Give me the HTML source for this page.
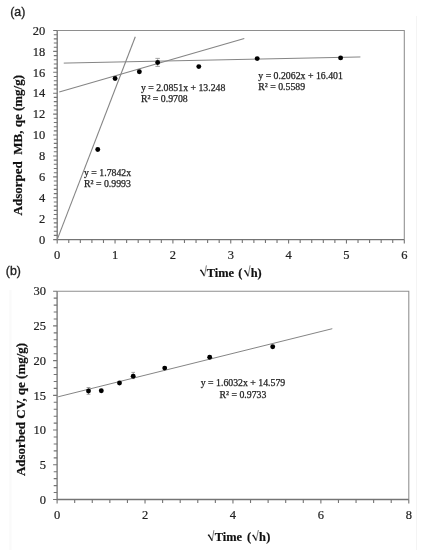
<!DOCTYPE html><html><head><meta charset="utf-8"><style>
html,body{margin:0;padding:0;background:#fff;}
svg{display:block;will-change:transform;}
.t{font-family:"Liberation Serif",serif;font-size:12.5px;fill:#222;stroke:#222;stroke-width:0.2px;}
.e{font-family:"Liberation Serif",serif;font-size:9.8px;fill:#222;stroke:#222;stroke-width:0.25px;}
.x{font-family:"Liberation Serif",serif;font-size:13.2px;font-weight:bold;fill:#111;stroke:#111;stroke-width:0.2px;}
.b{font-family:"Liberation Serif",serif;font-size:13px;font-weight:bold;fill:#111;stroke:#111;stroke-width:0.2px;}
.p{font-family:"Liberation Sans",sans-serif;font-size:13.3px;fill:#222;stroke:#222;stroke-width:0.35px;}
</style></head><body>
<svg width="428" height="550" viewBox="0 0 428 550">
<rect width="428" height="550" fill="#fff"/>
<line x1="416.5" y1="16" x2="416.5" y2="550" stroke="#f4f4f4" stroke-width="1"/>
<rect x="9.3" y="290" width="2.2" height="260" fill="#fafafa"/>
<text class="p" transform="translate(10.2 15.8) scale(0.93 1)">(a)</text>
<text class="p" transform="translate(5.8 275.0) scale(0.93 1)">(b)</text>
<path d="M57.2 30.5H404.3V239.6" fill="none" stroke="#8e8e8e" stroke-width="1.05"/>
<path d="M57.2 30.5V239.6H404.3" fill="none" stroke="#747474" stroke-width="1.3"/>
<path d="M53.2 239.6H57.2M53.8 235.42H57.2M53.8 231.24H57.2M53.8 227.05H57.2M53.8 222.87H57.2M53.2 218.69H57.2M53.8 214.51H57.2M53.8 210.33H57.2M53.8 206.14H57.2M53.8 201.96H57.2M53.2 197.78H57.2M53.8 193.6H57.2M53.8 189.42H57.2M53.8 185.23H57.2M53.8 181.05H57.2M53.2 176.87H57.2M53.8 172.69H57.2M53.8 168.51H57.2M53.8 164.32H57.2M53.8 160.14H57.2M53.2 155.96H57.2M53.8 151.78H57.2M53.8 147.6H57.2M53.8 143.41H57.2M53.8 139.23H57.2M53.2 135.05H57.2M53.8 130.87H57.2M53.8 126.69H57.2M53.8 122.5H57.2M53.8 118.32H57.2M53.2 114.14H57.2M53.8 109.96H57.2M53.8 105.78H57.2M53.8 101.59H57.2M53.8 97.41H57.2M53.2 93.23H57.2M53.8 89.05H57.2M53.8 84.87H57.2M53.8 80.68H57.2M53.8 76.5H57.2M53.2 72.32H57.2M53.8 68.14H57.2M53.8 63.96H57.2M53.8 59.77H57.2M53.8 55.59H57.2M53.2 51.41H57.2M53.8 47.23H57.2M53.8 43.05H57.2M53.8 38.86H57.2M53.8 34.68H57.2M53.2 30.5H57.2M57.2 239.6V243.6M68.77 239.6V243M80.34 239.6V243M91.91 239.6V243M103.48 239.6V243M115.05 239.6V243.6M126.62 239.6V243M138.19 239.6V243M149.76 239.6V243M161.33 239.6V243M172.9 239.6V243.6M184.47 239.6V243M196.04 239.6V243M207.61 239.6V243M219.18 239.6V243M230.75 239.6V243.6M242.32 239.6V243M253.89 239.6V243M265.46 239.6V243M277.03 239.6V243M288.6 239.6V243.6M300.17 239.6V243M311.74 239.6V243M323.31 239.6V243M334.88 239.6V243M346.45 239.6V243.6M358.02 239.6V243M369.59 239.6V243M381.16 239.6V243M392.73 239.6V243M404.3 239.6V243.6" fill="none" stroke="#747474" stroke-width="1.1"/>
<text class="t" transform="translate(45.2 243.8) scale(1 1.08)" text-anchor="end">0</text>
<text class="t" transform="translate(45.2 222.89) scale(1 1.08)" text-anchor="end">2</text>
<text class="t" transform="translate(45.2 201.98) scale(1 1.08)" text-anchor="end">4</text>
<text class="t" transform="translate(45.2 181.07) scale(1 1.08)" text-anchor="end">6</text>
<text class="t" transform="translate(45.2 160.16) scale(1 1.08)" text-anchor="end">8</text>
<text class="t" transform="translate(45.2 139.25) scale(1 1.08)" text-anchor="end">10</text>
<text class="t" transform="translate(45.2 118.34) scale(1 1.08)" text-anchor="end">12</text>
<text class="t" transform="translate(45.2 97.43) scale(1 1.08)" text-anchor="end">14</text>
<text class="t" transform="translate(45.2 76.52) scale(1 1.08)" text-anchor="end">16</text>
<text class="t" transform="translate(45.2 55.61) scale(1 1.08)" text-anchor="end">18</text>
<text class="t" transform="translate(45.2 34.7) scale(1 1.08)" text-anchor="end">20</text>
<text class="t" transform="translate(57.2 259) scale(1 1.08)" text-anchor="middle">0</text>
<text class="t" transform="translate(115.05 259) scale(1 1.08)" text-anchor="middle">1</text>
<text class="t" transform="translate(172.9 259) scale(1 1.08)" text-anchor="middle">2</text>
<text class="t" transform="translate(230.75 259) scale(1 1.08)" text-anchor="middle">3</text>
<text class="t" transform="translate(288.6 259) scale(1 1.08)" text-anchor="middle">4</text>
<text class="t" transform="translate(346.45 259) scale(1 1.08)" text-anchor="middle">5</text>
<text class="t" transform="translate(404.3 259) scale(1 1.08)" text-anchor="middle">6</text>
<g stroke="#858585" stroke-width="1.0" fill="none">
<line x1="57.2" y1="239.6" x2="135.3" y2="36.7" stroke-width="1.1"/>
<line x1="59.25" y1="92.05" x2="244.3" y2="38.55" stroke-width="1.15"/>
<line x1="63.76" y1="63.1" x2="360.4" y2="56.96"/>
</g>
<g stroke="#999" stroke-width="0.9" fill="none">
<path d="M157.66 58.4V66.4M155.4 58.4H159.9M155.4 66.4H159.9"/>
</g>
<circle cx="97.75" cy="149.5" r="2.45" fill="#000"/>
<circle cx="115.1" cy="78.55" r="2.45" fill="#000"/>
<circle cx="139.35" cy="71.8" r="2.45" fill="#000"/>
<circle cx="157.66" cy="62.47" r="2.45" fill="#000"/>
<circle cx="198.8" cy="66.6" r="2.45" fill="#000"/>
<circle cx="257.2" cy="58.6" r="2.45" fill="#000"/>
<circle cx="340.6" cy="57.9" r="2.45" fill="#000"/>
<text class="e" x="140.9" y="91.2">y = 2.0851x + 13.248</text>
<text class="e" x="140.9" y="102.3">R² = 0.9708</text>
<text class="e" x="258.3" y="78.7">y = 0.2062x + 16.401</text>
<text class="e" x="258.3" y="89.8">R² = 0.5589</text>
<text class="e" x="84.0" y="175.6">y = 1.7842x</text>
<text class="e" x="84.0" y="186.7">R² = 0.9993</text>
<text class="b" transform="translate(22.3 215.4) rotate(-90) scale(1 1.03)">Adsorped&#160; MB, qe (mg/g)</text>
<path d="M200.2 270.7L201 270.1L204.4 275.9" fill="none" stroke="#1a1a1a" stroke-width="1.35" stroke-linejoin="round"/><path d="M204.4 276.3L206.4 265.4" fill="none" stroke="#666" stroke-width="0.85"/>
<text class="x" transform="translate(206.71 277) scale(0.94 1)"><tspan x="0">Time</tspan><tspan x="33.67">(</tspan><tspan x="46.79">h</tspan><tspan x="54.04">)</tspan></text>
<path d="M244.3 271.2L245.1 270.6L248.1 276.1" fill="none" stroke="#1a1a1a" stroke-width="1.35" stroke-linejoin="round"/><path d="M248.1 276.5L250.1 265.4" fill="none" stroke="#666" stroke-width="0.85"/>
<path d="M57.1 291.2H408.8V499.5" fill="none" stroke="#8e8e8e" stroke-width="1.05"/>
<path d="M57.1 291.2V499.5H408.8" fill="none" stroke="#747474" stroke-width="1.3"/>
<path d="M53.1 499.5H57.1M53.7 492.56H57.1M53.7 485.61H57.1M53.7 478.67H57.1M53.7 471.73H57.1M53.1 464.78H57.1M53.7 457.84H57.1M53.7 450.9H57.1M53.7 443.95H57.1M53.7 437.01H57.1M53.1 430.07H57.1M53.7 423.12H57.1M53.7 416.18H57.1M53.7 409.24H57.1M53.7 402.29H57.1M53.1 395.35H57.1M53.7 388.41H57.1M53.7 381.46H57.1M53.7 374.52H57.1M53.7 367.58H57.1M53.1 360.63H57.1M53.7 353.69H57.1M53.7 346.75H57.1M53.7 339.8H57.1M53.7 332.86H57.1M53.1 325.92H57.1M53.7 318.97H57.1M53.7 312.03H57.1M53.7 305.09H57.1M53.7 298.14H57.1M53.1 291.2H57.1M57.1 499.5V503.5M74.69 499.5V502.9M92.27 499.5V502.9M109.86 499.5V502.9M127.44 499.5V502.9M145.03 499.5V503.5M162.61 499.5V502.9M180.2 499.5V502.9M197.78 499.5V502.9M215.36 499.5V502.9M232.95 499.5V503.5M250.53 499.5V502.9M268.12 499.5V502.9M285.7 499.5V502.9M303.29 499.5V502.9M320.88 499.5V503.5M338.46 499.5V502.9M356.05 499.5V502.9M373.63 499.5V502.9M391.22 499.5V502.9M408.8 499.5V503.5" fill="none" stroke="#747474" stroke-width="1.1"/>
<text class="t" transform="translate(46.1 503.7) scale(1 1.08)" text-anchor="end">0</text>
<text class="t" transform="translate(46.1 468.98) scale(1 1.08)" text-anchor="end">5</text>
<text class="t" transform="translate(46.1 434.27) scale(1 1.08)" text-anchor="end">10</text>
<text class="t" transform="translate(46.1 399.55) scale(1 1.08)" text-anchor="end">15</text>
<text class="t" transform="translate(46.1 364.83) scale(1 1.08)" text-anchor="end">20</text>
<text class="t" transform="translate(46.1 330.12) scale(1 1.08)" text-anchor="end">25</text>
<text class="t" transform="translate(46.1 295.4) scale(1 1.08)" text-anchor="end">30</text>
<text class="t" transform="translate(57.1 518.8) scale(1 1.08)" text-anchor="middle">0</text>
<text class="t" transform="translate(145.03 518.8) scale(1 1.08)" text-anchor="middle">2</text>
<text class="t" transform="translate(232.95 518.8) scale(1 1.08)" text-anchor="middle">4</text>
<text class="t" transform="translate(320.88 518.8) scale(1 1.08)" text-anchor="middle">6</text>
<text class="t" transform="translate(408.8 518.8) scale(1 1.08)" text-anchor="middle">8</text>
<g stroke="#858585" stroke-width="1.0" fill="none">
<line x1="58.1" y1="396.8" x2="332.3" y2="328.7"/>
</g>
<g stroke="#999" stroke-width="0.9" fill="none">
<path d="M88.5 387.5V394.3M86.6 387.5H90.4M86.6 394.3H90.4"/>
<path d="M133.2 372.4V378.6M131.4 372.4H135M131.6 378.6H134.8"/>
</g>
<circle cx="88.5" cy="391.0" r="2.45" fill="#000"/>
<circle cx="101.3" cy="390.75" r="2.45" fill="#000"/>
<circle cx="119.5" cy="383.0" r="2.45" fill="#000"/>
<circle cx="133.2" cy="376.2" r="2.45" fill="#000"/>
<circle cx="164.7" cy="368.1" r="2.45" fill="#000"/>
<circle cx="209.7" cy="357.2" r="2.45" fill="#000"/>
<circle cx="272.7" cy="346.7" r="2.45" fill="#000"/>
<text class="e" x="243" y="386.4" text-anchor="middle">y = 1.6032x + 14.579</text>
<text class="e" x="243" y="398.1" text-anchor="middle">R² = 0.9733</text>
<text class="b" transform="translate(25.0 476.1) rotate(-90) scale(1 1.03)">Adsorbed CV, qe (mg/g)</text>
<path d="M208 535.6L208.8 535L212.1 540.6" fill="none" stroke="#1a1a1a" stroke-width="1.35" stroke-linejoin="round"/><path d="M212.1 541L213.9 530.2" fill="none" stroke="#666" stroke-width="0.85"/>
<text class="x" transform="translate(214.71 541.4) scale(0.94 1)"><tspan x="0">Time</tspan><tspan x="34.41">(</tspan><tspan x="47.22">h</tspan><tspan x="54.78">)</tspan></text>
<path d="M252.5 535.9L253.3 535.3L256.1 540.4" fill="none" stroke="#1a1a1a" stroke-width="1.35" stroke-linejoin="round"/><path d="M256.1 540.8L258.4 530" fill="none" stroke="#666" stroke-width="0.85"/>
</svg></body></html>
